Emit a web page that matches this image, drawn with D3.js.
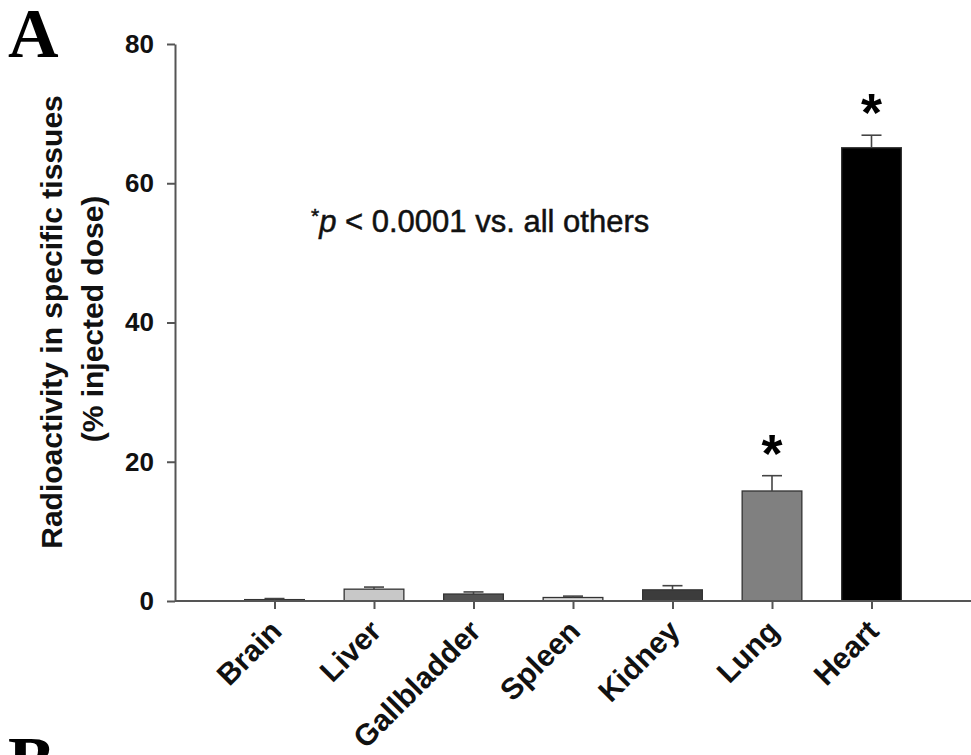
<!DOCTYPE html>
<html>
<head>
<meta charset="utf-8">
<script src="https://cdn.jsdelivr.net/npm/d3@7"></script>
<style>
  body { margin: 0; background: #fff; }
  svg { display: block; }
</style>
</head>
<body>
<svg id="chart"></svg>
<script>
const width = 971;
const height = 755;

const tissues = ['Brain', 'Liver', 'Gallbladder', 'Spleen', 'Kidney', 'Lung', 'Heart'];
const means = [0.2, 1.7, 1.0, 0.5, 1.6, 15.8, 65.1];
const sems = [0.15, 0.3, 0.3, 0.2, 0.6, 2.2, 1.8];
const fills = ['#555555', '#c8c8c8', '#525252', '#dcdcdc', '#3c3c3c', '#808080', '#000000'];
const significant = [false, false, false, false, false, true, true];
const yTicks = [0, 20, 40, 60, 80];

const font = 'Liberation Sans, Arial, sans-serif';
const axisColor = '#555';

const svg = d3.select('#chart').attr('width', width).attr('height', height);

const x = d3.scalePoint().domain(tissues).range([175, 971]).padding(1);
const y = d3.scaleLinear().domain([0, 80]).range([601, 44]);
const barWidth = x.step() * 0.6;

const data = tissues.map((t, i) => ({ t, mean: means[i], sem: sems[i], fill: fills[i], sig: significant[i] }));

// panel letters
svg.append('text').attr('x', 8).attr('y', 57)
  .style('font-family', 'Liberation Serif, Times New Roman, serif')
  .style('font-weight', 'bold').style('font-size', '70px').text('A');
svg.append('text').attr('x', 8).attr('y', 785)
  .style('font-family', 'Liberation Serif, Times New Roman, serif')
  .style('font-weight', 'bold').style('font-size', '70px').text('B');

// bars
const bars = svg.append('g').attr('class', 'bars');
bars.selectAll('rect').data(data).join('rect')
  .attr('x', (d) => x(d.t) - barWidth / 2)
  .attr('y', (d) => y(d.mean))
  .attr('width', barWidth)
  .attr('height', (d) => y(0) - y(d.mean))
  .attr('fill', (d) => d.fill)
  .attr('stroke', '#333')
  .attr('stroke-width', 1.3);

// error bars (upper only)
const err = svg.append('g').attr('class', 'errors').attr('stroke', '#444').attr('stroke-width', 1.6);
err.selectAll('line.v').data(data).join('line').attr('class', 'v')
  .attr('x1', (d) => x(d.t)).attr('x2', (d) => x(d.t))
  .attr('y1', (d) => y(d.mean)).attr('y2', (d) => y(d.mean + d.sem));
err.selectAll('line.cap').data(data).join('line').attr('class', 'cap')
  .attr('x1', (d) => x(d.t) - 10).attr('x2', (d) => x(d.t) + 10)
  .attr('y1', (d) => y(d.mean + d.sem)).attr('y2', (d) => y(d.mean + d.sem));

// significance stars
svg.append('g').selectAll('text').data(data.filter((d) => d.sig)).join('text')
  .attr('x', (d) => x(d.t))
  .attr('y', (d) => y(d.mean + d.sem) - 4)
  .attr('text-anchor', 'middle')
  .style('font-family', font).style('font-weight', 'bold').style('font-size', '54px')
  .text('*');

// y axis
const yAxis = svg.append('g').attr('transform', 'translate(175,0)')
  .call(d3.axisLeft(y).tickValues(yTicks).tickSize(8).tickSizeOuter(0).tickPadding(13));
yAxis.selectAll('text').style('font-family', font).style('font-weight', 'bold')
  .style('font-size', '26px').attr('fill', '#111');

// x axis
const xAxis = svg.append('g').attr('transform', 'translate(0,601)')
  .call(d3.axisBottom(x).tickSize(8).tickSizeOuter(0).tickFormat(''));
xAxis.select('.domain').attr('d', 'M175,0H971');

[yAxis, xAxis].forEach((g) => {
  g.select('.domain').attr('stroke', axisColor).attr('stroke-width', 2);
  g.selectAll('.tick line').attr('stroke', axisColor).attr('stroke-width', 2);
});

// category labels, rotated
svg.append('g').selectAll('text').data(tissues).join('text')
  .attr('transform', (d) => `translate(${x(d) + 9},633) rotate(-45)`)
  .attr('text-anchor', 'end')
  .style('font-family', font).style('font-weight', 'bold').style('font-size', '30px')
  .attr('fill', '#111')
  .text((d) => d);

// y title
const yTitle = svg.append('g').style('font-family', font).style('font-weight', 'bold')
  .style('font-size', '30px').attr('fill', '#111');
yTitle.append('text').attr('transform', 'translate(62,322) rotate(-90)')
  .attr('text-anchor', 'middle').text('Radioactivity in specific tissues');
yTitle.append('text').attr('transform', 'translate(103,319) rotate(-90)')
  .attr('text-anchor', 'middle').text('(% injected dose)');

// annotation
const note = svg.append('text').attr('x', 311).attr('y', 232)
  .style('font-family', font).style('font-size', '31px')
  .attr('fill', '#111').attr('stroke', '#111').attr('stroke-width', 0.5);
note.append('tspan').attr('dy', -9).style('font-size', '21px').text('*');
note.append('tspan').attr('dy', 9).style('font-style', 'italic').text('p');
note.append('tspan').text(' < 0.0001 vs. all others');
</script>
</body>
</html>
